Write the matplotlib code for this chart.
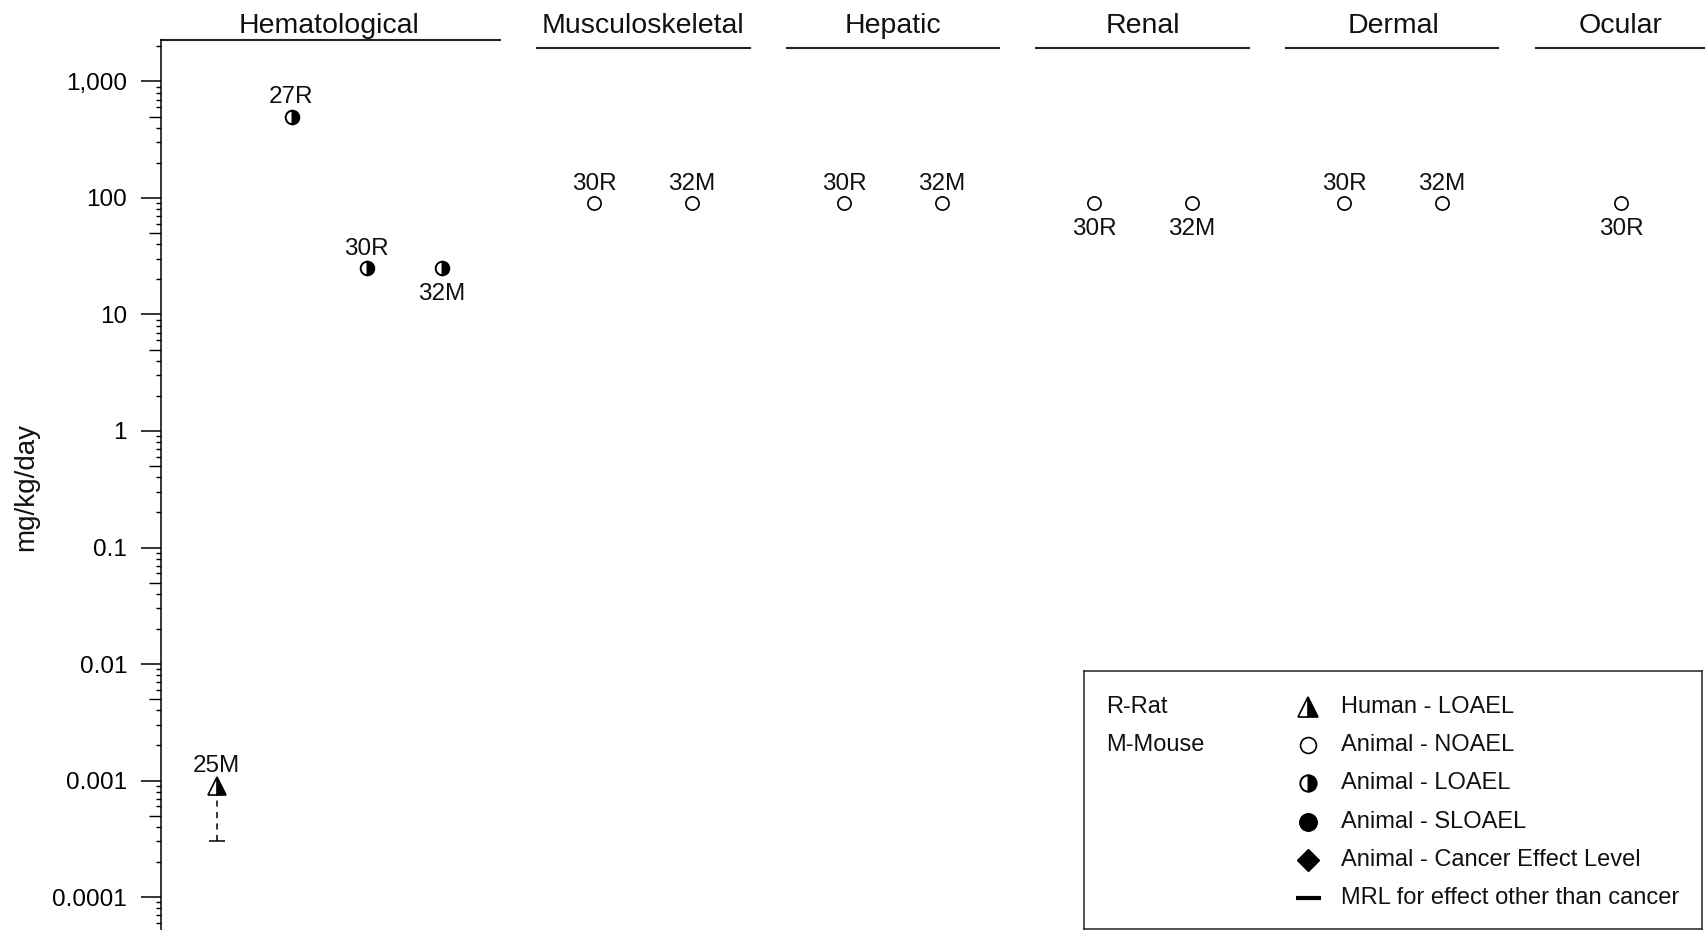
import matplotlib.pyplot as plt
import numpy as np
from matplotlib.ticker import FixedLocator, FuncFormatter, LogLocator, NullLocator

plt.rcParams['font.family'] = ['Liberation Sans', 'DejaVu Sans']

# effect systems shown as columns
systems = ['Hematological', 'Musculoskeletal', 'Hepatic', 'Renal', 'Dermal', 'Ocular']

# study label, dose (mg/kg/day), endpoint type and label side, per system
hem_labels = ['25M', '27R', '30R', '32M']
hem_doses = [0.0009, 500, 25, 25]
hem_kinds = ['human_loael', 'animal_loael', 'animal_loael', 'animal_loael']
hem_sides = ['above', 'above', 'above', 'below']

musc_labels = ['30R', '32M']
musc_doses = [90, 90]
musc_kinds = ['animal_noael', 'animal_noael']
musc_sides = ['above', 'above']

hep_labels = ['30R', '32M']
hep_doses = [90, 90]
hep_kinds = ['animal_noael', 'animal_noael']
hep_sides = ['above', 'above']

renal_labels = ['30R', '32M']
renal_doses = [90, 90]
renal_kinds = ['animal_noael', 'animal_noael']
renal_sides = ['below', 'below']

derm_labels = ['30R', '32M']
derm_doses = [90, 90]
derm_kinds = ['animal_noael', 'animal_noael']
derm_sides = ['above', 'above']

ocular_labels = ['30R']
ocular_doses = [90]
ocular_kinds = ['animal_noael']
ocular_sides = ['below']

# MRL derived from study 25M
mrl_study = '25M'
mrl_value = 0.0003

y_ticks = [1e-4, 1e-3, 1e-2, 1e-1, 1, 10, 100, 1000]

legend_species = ['R-Rat', 'M-Mouse']
legend_kinds = ['human_loael', 'animal_noael', 'animal_loael', 'animal_sloael', 'cancer', 'mrl']
legend_texts = ['Human - LOAEL', 'Animal - NOAEL', 'Animal - LOAEL', 'Animal - SLOAEL',
                'Animal - Cancer Effect Level', 'MRL for effect other than cancer']

groups = [
    (hem_labels, hem_doses, hem_kinds, hem_sides),
    (musc_labels, musc_doses, musc_kinds, musc_sides),
    (hep_labels, hep_doses, hep_kinds, hep_sides),
    (renal_labels, renal_doses, renal_kinds, renal_sides),
    (derm_labels, derm_doses, derm_kinds, derm_sides),
    (ocular_labels, ocular_doses, ocular_kinds, ocular_sides),
]

# column layout in axis pixel units
group_centers = [168, 482, 732, 982, 1232, 1460]
header_spans = [(0, 339), (376, 589), (626, 838), (875, 1088), (1125, 1337), (1375, 1600)]
point_step = [75, 98, 98, 98, 98, 98]

styles = {
    'human_loael': dict(marker='^', ms=12.5, fillstyle='right', mfc='black',
                        mfcalt='white', mec='black', mew=1.2),
    'animal_noael': dict(marker='o', ms=9.5, mfc='white', mec='black', mew=1.2),
    'animal_loael': dict(marker='o', ms=9.8, fillstyle='right', mfc='black',
                         mfcalt='white', mec='black', mew=1.4),
    'animal_sloael': dict(marker='o', ms=10.5, mfc='black', mec='black', mew=1.0),
    'cancer': dict(marker='D', ms=9, mfc='black', mec='black', mew=1.0),
    'mrl': dict(marker='_', ms=18, mec='black', mew=3.0),
}

fig = plt.figure(figsize=(17.05, 9.30), dpi=100)
W, H = 1705, 930
ax = fig.add_axes([161 / W, 0, 1544 / W, 890 / H])
ax.set_yscale('log')
ax.set_ylim(10 ** -4.283, 10 ** 3.356)
ax.set_xlim(0, 1544)

for s in ['top', 'right', 'bottom']:
    ax.spines[s].set_visible(False)
ax.spines['left'].set_linewidth(1.1)
ax.set_xticks([])

ax.yaxis.set_major_locator(FixedLocator(y_ticks))
ax.yaxis.set_major_formatter(FuncFormatter(lambda v, p: f'{int(v):,}' if v >= 1 else f'{v:g}'))
ax.yaxis.set_minor_locator(LogLocator(base=10, subs=[2, 3, 4, 6, 7, 8, 9], numticks=20))
ax.tick_params(axis='y', which='major', length=14.4, width=1.1, pad=10, labelsize=17.5)
ax.tick_params(axis='y', which='minor', length=3.6, width=1.0)

# mid-decade ticks (5 x 10^k) are a bit longer
sec = ax.secondary_yaxis('left')
sec.set_yticks([5 * 10.0 ** k for k in range(-5, 4)])
sec.yaxis.set_minor_locator(NullLocator())
sec.tick_params(axis='y', which='major', length=8.6, width=1.0, labelleft=False)
sec.spines['left'].set_visible(False)

xtrans = ax.get_xaxis_transform()
for i, name in enumerate(systems):
    x0, x1 = header_spans[i]
    yline = 1.0 if i == 0 else 1 - 8 / 890
    ax.plot([x0, x1], [yline, yline], color='#222222', lw=1.5, transform=xtrans, clip_on=False)
    ax.text(group_centers[i], 1 + 14 / 890, name, transform=xtrans, ha='center', va='center',
            fontsize=20.5, color='#111111')

for gi, (labels, doses, kinds, sides) in enumerate(groups):
    n = len(labels)
    xs = group_centers[gi] + (np.arange(n) - (n - 1) / 2) * point_step[gi]
    for x, lab, dose, kind, side in zip(xs, labels, doses, kinds, sides):
        if lab == mrl_study and kind == 'human_loael':
            ax.plot([x, x], [mrl_value, dose], color='black', lw=1.1,
                    linestyle=(0, (4, 3.5)), zorder=2)
            ax.plot([x], [mrl_value], marker='_', ms=11, mec='black', mew=1.1, zorder=3)
        ax.plot([x], [dose], linestyle='none', zorder=4, **styles[kind])
        dy = 14 if side == 'above' else -18.5
        ax.annotate(lab, (x, dose), xytext=(0, dy), textcoords='offset points',
                    ha='center', va='center', fontsize=17.5, color='#111111')

fig.text(26 / W, 1 - 487 / H, 'mg/kg/day', rotation=90, ha='center', va='center',
         fontsize=20, color='#111111')

# legend box
lax = fig.add_axes([1084 / W, 1 / H, 618 / W, 258 / H])
lax.set_xlim(0, 618)
lax.set_ylim(258, 0)
lax.set_xticks([])
lax.set_yticks([])
for s in lax.spines.values():
    s.set_linewidth(1.1)
    s.set_color('#222222')

row0, row_gap = 36, 38.2
for i, txt in enumerate(legend_species):
    lax.text(22, row0 + i * row_gap, txt, ha='left', va='center', fontsize=17, color='#111111')
for i, (kind, txt) in enumerate(zip(legend_kinds, legend_texts)):
    y = row0 + i * row_gap
    key = dict(styles[kind])
    if kind != 'mrl':
        key['ms'] = key['ms'] * 1.2
    lax.plot([224], [y], linestyle='none', **key)
    lax.text(257, y, txt, ha='left', va='center', fontsize=17, color='#111111')

fig.savefig('out.png', dpi=100)
